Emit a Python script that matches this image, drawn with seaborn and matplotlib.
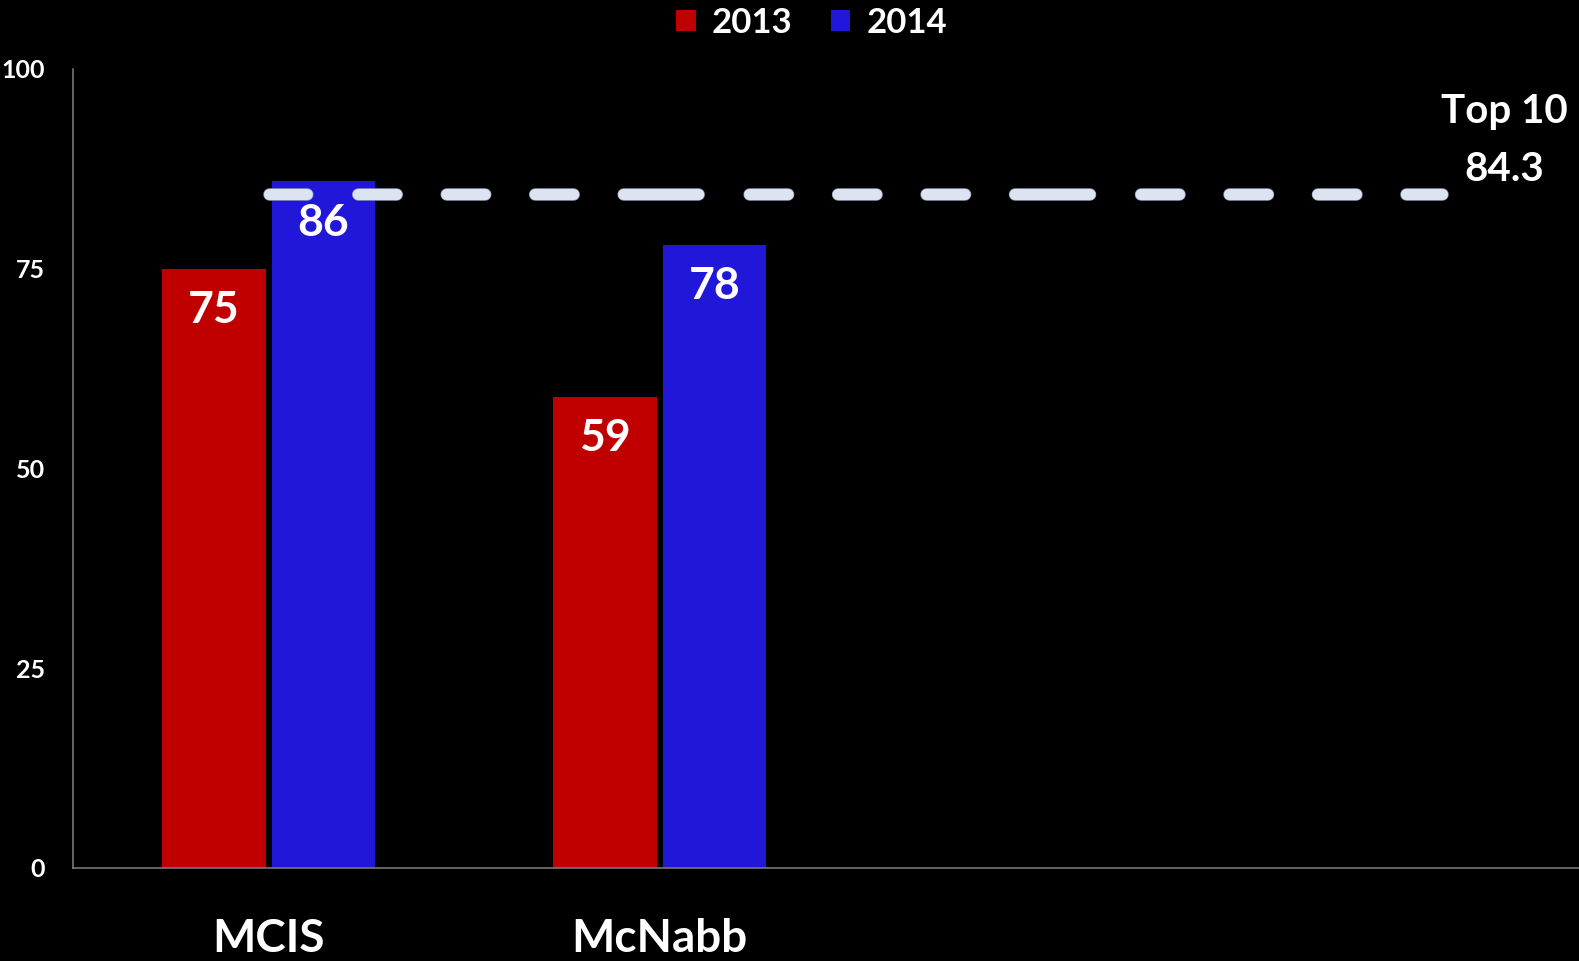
import pandas as pd
import seaborn as sns
import matplotlib.pyplot as plt
import matplotlib.patheffects as pe

# data
schools = ["MCIS", "McNabb"]
years = ["2013", "2014"]
scores_2013 = [75, 59]
scores_2014 = [86, 78]
top10 = 84.3
yticks = [0, 25, 50, 75, 100]

df = pd.DataFrame({
    "school": schools * 2,
    "year": [years[0]] * 2 + [years[1]] * 2,
    "score": scores_2013 + scores_2014,
})

sns.set_style("dark")
plt.rcParams["font.family"] = ["Lato", "DejaVu Sans"]
plt.rcParams["font.weight"] = "bold"
plt.rcParams["lines.scale_dashes"] = False

fig = plt.figure(figsize=(15.79, 9.61), dpi=100, facecolor="black")
ax = fig.add_axes([0.0462, 0.0968, 0.9538, 0.8314])
ax.set_facecolor("black")

sns.barplot(data=df, x="school", y="score", hue="year", order=schools,
            hue_order=years, palette=["#C00000", "#2117D9"],
            width=0.56, gap=0.055, saturation=1, linewidth=0, ax=ax)

# value labels inside the top of each bar
for cont in ax.containers:
    for bar in cont:
        ax.annotate(f"{bar.get_height():.0f}",
                    (bar.get_x() + bar.get_width() / 2, bar.get_height()),
                    xytext=(0, -30), textcoords="offset points",
                    ha="center", va="center", color="white",
                    fontsize=32, fontweight="bold")

# top 10 reference line
ax.plot([0, 3], [top10, top10], color="#DCE3F1", lw=8,
        linestyle=(26.8, (54, 36.7, 27.7, 36, 27.7, 36, 27.7, 36)),
        dash_capstyle="round", solid_capstyle="round",
        path_effects=[pe.Stroke(linewidth=9, foreground="#8f9bb5"), pe.Normal()],
        zorder=5)
ax.text(3.16, 91.0, f"Top 10\n{top10}", ha="center", va="center",
        multialignment="center", linespacing=1.7, color="white",
        fontsize=29, fontweight="bold")

ax.set_xlim(-0.5, 3.35)
ax.set_ylim(0, 100)
ax.set_yticks(yticks)
ax.set_xlabel("")
ax.set_ylabel("")
ax.grid(False)
for s in ["top", "right"]:
    ax.spines[s].set_visible(False)
for s in ["left", "bottom"]:
    ax.spines[s].set_visible(True)
    ax.spines[s].set_color("#7f7f7f")
    ax.spines[s].set_linewidth(1.1)
ax.tick_params(axis="y", length=0, pad=20, labelsize=18, labelcolor="white")
ax.tick_params(axis="x", length=0, pad=36, labelsize=33, labelcolor="white")
for lab in ax.get_xticklabels() + ax.get_yticklabels():
    lab.set_fontweight("bold")

sns.move_legend(ax, "center", bbox_to_anchor=(0.514, 0.976),
                bbox_transform=fig.transFigure, ncol=2, frameon=False,
                title=None, handlelength=0.56, handleheight=0.56,
                handletextpad=0.47, columnspacing=1.1, labelcolor="white",
                fontsize=25)
leg = ax.get_legend()
for t in leg.get_texts():
    t.set_fontweight("bold")
for h in leg.legend_handles:
    h.set_edgecolor("none")

fig.savefig("out.png", dpi=100, facecolor="black")
